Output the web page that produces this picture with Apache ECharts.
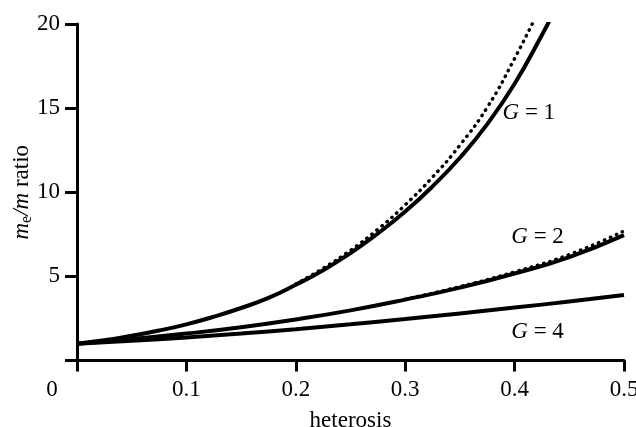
<!DOCTYPE html>
<html>
<head>
<meta charset="utf-8">
<script src="https://cdn.jsdelivr.net/npm/echarts@6/dist/echarts.min.js"></script>
<style>
html,body{margin:0;padding:0;background:#fff;}
#chart{width:636px;height:427px;}
</style>
</head>
<body>
<div id="chart"></div>
<script>
// heterosis values and m_e/m ratios
const hG1 = [0, 0.025, 0.05, 0.075, 0.1, 0.125, 0.15, 0.175, 0.2, 0.225, 0.25, 0.275, 0.3, 0.325, 0.35, 0.375, 0.4, 0.425, 0.435];
const g1Solid = [1, 1.2, 1.47, 1.78, 2.15, 2.6, 3.12, 3.72, 4.5, 5.37, 6.38, 7.55, 8.85, 10.35, 12.05, 14.05, 16.45, 19.35, 20.6];
const hG1Dot = [0.2, 0.225, 0.25, 0.275, 0.3, 0.325, 0.35, 0.375, 0.4, 0.425];
const g1Dotted = [4.55, 5.48, 6.55, 7.8, 9.25, 10.9, 12.8, 15.05, 17.95, 21.2];

const hAll = [0, 0.05, 0.1, 0.15, 0.2, 0.25, 0.3, 0.35, 0.4, 0.45, 0.5];
const g2Solid = [1, 1.28, 1.6, 1.98, 2.44, 2.98, 3.62, 4.33, 5.17, 6.15, 7.45];
const hG2Dot = [0.3, 0.35, 0.4, 0.45, 0.5];
const g2Dotted = [3.64, 4.39, 5.27, 6.3, 7.7];
const g4Solid = [1, 1.17, 1.37, 1.6, 1.86, 2.15, 2.46, 2.8, 3.15, 3.5, 3.89];

const xTicks = [0, 0.1, 0.2, 0.3, 0.4, 0.5];
const yTicks = [0, 5, 10, 15, 20];
const curveLabels = [
  {text: '1', h: 0.413, v: 14.7},
  {text: '2', h: 0.421, v: 7.34},
  {text: '4', h: 0.421, v: 1.69}
];

const FONT = '"Liberation Serif", "Times New Roman", serif';
const FS = 23;

function pairs(xs, ys){ return xs.map((x,i)=>[x, ys[i]]); }
function curveMark(lbl){
  return {
    symbol:'circle', symbolSize:1, itemStyle:{color:'rgba(0,0,0,0)'},
    label:{show:true, position:'inside', formatter:'{i|G} = '+lbl.text, fontFamily:FONT, fontSize:FS, color:'#000',
      rich:{i:{fontFamily:FONT, fontSize:FS, fontStyle:'italic', color:'#000'}}},
    data:[{coord:[lbl.h, lbl.v]}]
  };
}

const chart = echarts.init(document.getElementById('chart'), null, {renderer:'canvas'});

const solidStyle = {color:'#000', width:4};
const dotStyle = {color:'#000', width:3.4, type:[0.5, 6], cap:'round'};

chart.setOption({
  animation:false,
  backgroundColor:'#fff',
  grid:{left:77, right:12, top:24, bottom:66.5, containLabel:false, outerBoundsMode:'none'},
  xAxis:{
    type:'value', min:0, max:0.5, interval:0.1,
    name:'heterosis', nameLocation:'middle', nameGap:49, nameMoveOverlap:false,
    nameTextStyle:{fontFamily:FONT, fontSize:FS, color:'#000'},
    axisLine:{lineStyle:{color:'#000', width:3}},
    axisTick:{length:11, lineStyle:{color:'#000', width:3}},
    splitLine:{show:false},
    axisLabel:{
      margin:18, fontFamily:FONT, fontSize:FS, color:'#000',
      formatter:function(v){
        if (xTicks.indexOf(v) < 0) return '';
        return v === 0 ? '{z|0}' : v.toFixed(1);
      },
      rich:{z:{fontFamily:FONT, fontSize:FS, color:'#000', padding:[0,50,0,0]}}
    }
  },
  yAxis:{
    type:'value', min:0, max:20, interval:5,
    name:'{i|m}{s|e}{i|/m} ratio', nameLocation:'middle', nameGap:42, nameRotate:90, nameMoveOverlap:false,
    nameTextStyle:{fontFamily:FONT, fontSize:FS, color:'#000',
      rich:{
        i:{fontFamily:FONT, fontSize:FS, fontStyle:'italic', color:'#000'},
        s:{fontFamily:FONT, fontSize:16, color:'#000', verticalAlign:'bottom', padding:[10,0,0,0]}
      }},
    axisLine:{lineStyle:{color:'#000', width:3}},
    axisTick:{length:12, lineStyle:{color:'#000', width:3}},
    splitLine:{show:false},
    axisLabel:{
      margin:17, fontFamily:FONT, fontSize:FS, color:'#000',
      formatter:function(v){ return (v === 0 || yTicks.indexOf(v) < 0) ? '' : String(v); }
    }
  },
  series:[
    {type:'line', data:pairs(hG1, g1Solid), smooth:true, showSymbol:false, lineStyle:solidStyle, z:3,
     markPoint:curveMark(curveLabels[0])},
    {type:'line', data:pairs(hG1Dot, g1Dotted), smooth:true, showSymbol:false, lineStyle:dotStyle, z:4},
    {type:'line', data:pairs(hAll, g2Solid), smooth:true, showSymbol:false, lineStyle:solidStyle, z:3,
     markPoint:curveMark(curveLabels[1])},
    {type:'line', data:pairs(hG2Dot, g2Dotted), smooth:true, showSymbol:false, lineStyle:dotStyle, z:4},
    {type:'line', data:pairs(hAll, g4Solid), smooth:true, showSymbol:false, lineStyle:solidStyle, z:3,
     markPoint:curveMark(curveLabels[2])}
  ]
});
</script>
</body>
</html>
